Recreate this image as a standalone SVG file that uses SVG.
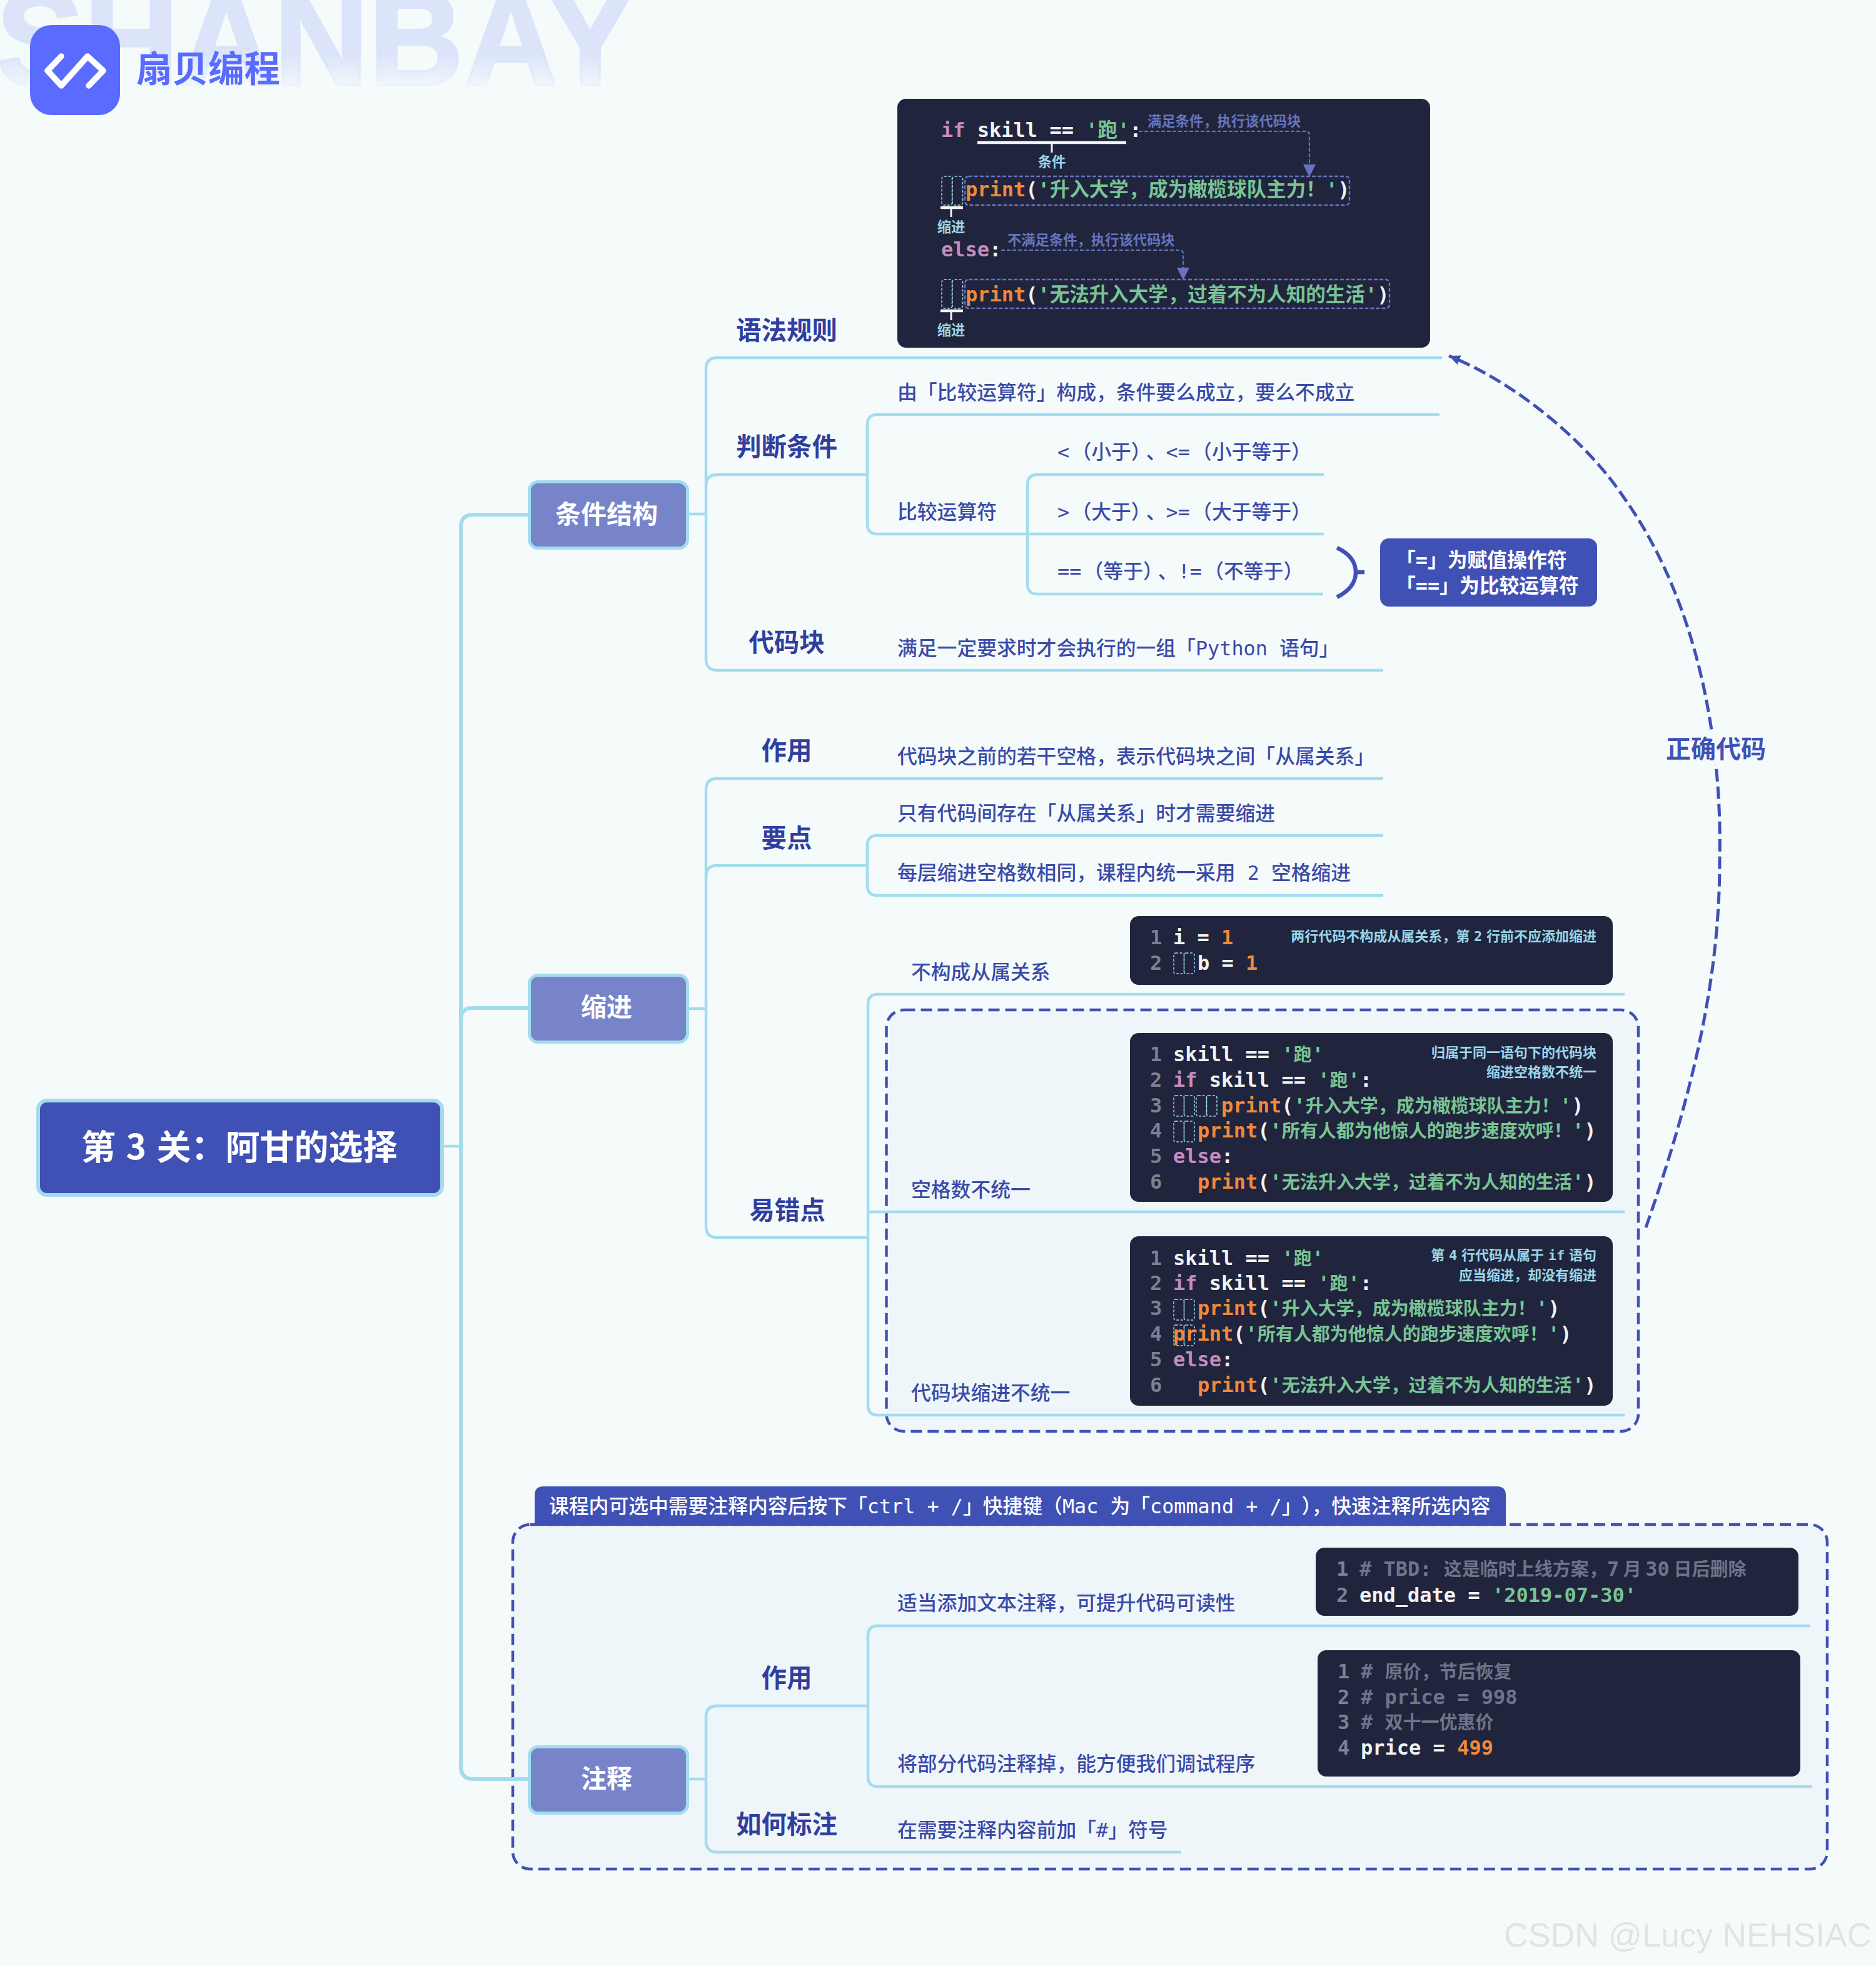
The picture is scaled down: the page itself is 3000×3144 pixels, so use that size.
<svg xmlns="http://www.w3.org/2000/svg" width="3000" height="3144" viewBox="0 0 3000 3144">
<style>
.l{fill:none;stroke:#a2dcef;stroke-linecap:butt}
.l4{stroke-width:4.5}.l6{stroke-width:6}
.b{font:500 31.8px "DejaVu Sans Mono","Noto Sans CJK SC",monospace;fill:#3a4aa8}
.bw{font:700 31.8px "DejaVu Sans Mono","Noto Sans CJK SC",monospace;fill:#fff}
.bn{font:500 31.8px "DejaVu Sans Mono","Noto Sans CJK SC",monospace;fill:#fff}
.t{font:700 40.5px "Noto Sans CJK SC",sans-serif;fill:#303f9f;text-anchor:middle}
.nt{font:700 41px "Noto Sans CJK SC",sans-serif;fill:#fff;text-anchor:middle}
.h{font-feature-settings:"halt"}
.node{fill:#7784ca;stroke:#a2dcef;stroke-width:5}
.code{fill:#20243d}
.dash{fill:#eff6fa;stroke:#4051b5;stroke-width:4.5;stroke-dasharray:18 9}
.c{font:700 32px "DejaVu Sans Mono","Noto Sans CJK SC",monospace;fill:#f2f2f2}
.z{font:700 29px "Noto Sans CJK SC",sans-serif}
.z2{font:700 31.5px "Noto Sans CJK SC",sans-serif}
.w{fill:#f2f2f2}.s{fill:#79c494}.o{fill:#f0893c}.k{fill:#c68cc0}.n{fill:#7c8190}.m{fill:#6f7488}
.a{font:700 22px "DejaVu Sans Mono","Noto Sans CJK SC",monospace;word-spacing:-6.5px;fill:#9ad5e6;text-anchor:end}
.am{font:700 22.3px "Noto Sans CJK SC",sans-serif;fill:#6674bf}
.ac{font:700 22.3px "Noto Sans CJK SC",sans-serif;fill:#9ad5e6;text-anchor:middle}
.cell{fill:none;stroke:#9ad5e6;stroke-width:1.5;stroke-dasharray:4 2.5}
.box{fill:none;stroke:#6674bf;stroke-width:2.5;stroke-dasharray:6 3}
.arrowline{fill:none;stroke:#6674bf;stroke-width:2.2;stroke-dasharray:6 3}
.wl{fill:none;stroke:#f5f5f5}
</style>
<defs>
<linearGradient id="wm" gradientUnits="userSpaceOnUse" x1="0" y1="0" x2="0" y2="140">
<stop offset="0" stop-color="#dce4fa"/><stop offset="0.62" stop-color="#dce4fa"/><stop offset="1" stop-color="#dce4fa" stop-opacity="0.15"/>
</linearGradient>
<marker id="ah" markerUnits="userSpaceOnUse" markerWidth="20" markerHeight="20" viewBox="0 0 20 20" refX="20" refY="10" orient="auto"><path d="M0,0L20,10L0,20Z" fill="#6674bf"/></marker>
<marker id="ab" markerUnits="userSpaceOnUse" markerWidth="18" markerHeight="16" viewBox="0 0 18 16" refX="18" refY="8" orient="auto"><path d="M0,0L18,8L0,16Z" fill="#4051b5"/></marker>
<g id="two"><rect class="cell" x="0" y="0" width="16.5" height="33" rx="3"/><rect class="cell" x="16.5" y="0" width="16.5" height="33" rx="3"/></g>
<g id="bigcell"><rect class="cell" x="0" y="0" width="16.5" height="46" rx="4"/><rect class="cell" x="17" y="0" width="16.5" height="46" rx="4"/></g>
</defs>
<rect width="3000" height="3144" fill="#f5fbfb"/>

<g id="brand">
<text x="-6" y="137" font-family="'Liberation Sans',sans-serif" font-weight="700" font-size="215" fill="url(#wm)" stroke="url(#wm)" stroke-width="4" textLength="1020" lengthAdjust="spacingAndGlyphs">SHANBAY</text>
<rect x="48" y="40" width="144" height="144" rx="34" fill="#5a6bff"/>
<path d="M98,90L76,113L98,137L140,90L165,113L142,137" fill="none" stroke="#fff" stroke-width="9.5" stroke-linejoin="round" stroke-linecap="round"/>
<text x="218" y="131" font-family="'Noto Sans CJK SC',sans-serif" font-weight="700" font-size="57.5" fill="#5a6bff">扇贝编程</text>
</g>

<g id="frames">
<rect class="dash" x="1417.5" y="1615" width="1202.5" height="674" rx="28"/>
<rect class="dash" x="820" y="2438" width="2102" height="551" rx="28"/>
</g>

<g id="connectors">
<path class="l l4" d="M707,1833H737"/>
<path class="l l6" d="M844,823H757Q737,823 737,843V2825Q737,2845 757,2845H844"/>
<path class="l l6" d="M844,1612H755Q737,1612 737,1630"/>
<path class="l l4" d="M1100,822H1129M1100,1613H1129M1100,2845H1129"/>
<path class="l l4" d="M2306,572H1147Q1129,572 1129,590V1054Q1129,1072 1147,1072H2212"/>
<path class="l l4" d="M1387,759H1147Q1129,759 1129,777"/>
<path class="l l4" d="M2302,663H1403Q1387,663 1387,679V838Q1387,854 1403,854H2117"/>
<path class="l l4" d="M2117,759H1659Q1643,759 1643,775V934Q1643,950 1659,950H2116"/>
<path class="l l4" d="M2212,1245H1147Q1129,1245 1129,1263V1961Q1129,1979 1147,1979H1388"/>
<path class="l l4" d="M1387,1384H1147Q1129,1384 1129,1402"/>
<path class="l l4" d="M2212,1336H1403Q1387,1336 1387,1352V1416Q1387,1432 1403,1432H2212"/>
<path class="l l4" d="M2598,1590H1404Q1388,1590 1388,1606V2247Q1388,2263 1404,2263H2598"/>
<path class="l l4" d="M1388,1938H2598"/>
<path class="l l4" d="M1889,2962H1147Q1129,2962 1129,2944V2746Q1129,2728 1147,2728H1388"/>
<path class="l l4" d="M2895,2600H1404Q1388,2600 1388,2616V2841Q1388,2857 1404,2857H2898"/>
<path d="M2138,876Q2168,890 2168,915Q2168,940 2138,955M2168,915H2182" fill="none" stroke="#4051b5" stroke-width="6.5"/>
<path d="M2632,1963C2710,1740 2750,1560 2750,1377C2755,1150 2700,940 2597,796C2540,710 2430,615 2317,569" fill="none" stroke="#4051b5" stroke-width="5" stroke-dasharray="20 8" marker-end="url(#ab)"/>
</g>

<g id="root">
<rect x="61" y="1760" width="646" height="151" rx="14" fill="#4051b5" stroke="#a2dcef" stroke-width="6"/>
<text x="130" y="1854" font-family="'Noto Sans CJK SC',sans-serif" font-weight="700" font-size="55" word-spacing="4" fill="#fff">第 3 关：阿甘的选择</text>
</g>
<g id="n-tiaojian"><rect class="node" x="846.5" y="770.5" width="253" height="106" rx="14"/><text class="nt" x="970" y="837">条件结构</text></g>
<g id="n-suojin"><rect class="node" x="846.5" y="1559.5" width="253" height="107" rx="14"/><text class="nt" x="970" y="1625">缩进</text></g>
<g id="n-zhushi"><rect class="node" x="846.5" y="2793.5" width="253" height="106" rx="14"/><text class="nt" x="970" y="2859">注释</text></g>

<g id="titles">
<text class="t" x="1258" y="543">语法规则</text>
<text class="t" x="1258" y="729">判断条件</text>
<text class="t" x="1258" y="1042">代码块</text>
<text class="t" x="1258" y="1215">作用</text>
<text class="t" x="1258" y="1355">要点</text>
<text class="t" x="1259" y="1950">易错点</text>
<text class="t" x="1258" y="2698">作用</text>
<text class="t" x="1258" y="2932">如何标注</text>
</g>

<g id="leaves">
<text class="b" x="1435" y="639">由「比较运算符」构成，条件要么成立，要么不成立</text>
<text class="b" x="1435" y="830">比较运算符</text>
<text class="b" x="1691" y="734">&lt; <tspan class="h">（</tspan>小于<tspan class="h">）</tspan><tspan dx="8">、</tspan>&lt;= <tspan class="h">（</tspan>小于等于<tspan class="h">）</tspan></text>
<text class="b" x="1691" y="830">&gt; <tspan class="h">（</tspan>大于<tspan class="h">）</tspan><tspan dx="8">、</tspan>&gt;= <tspan class="h">（</tspan>大于等于<tspan class="h">）</tspan></text>
<text class="b" x="1691" y="925">== <tspan class="h">（</tspan>等于<tspan class="h">）</tspan><tspan dx="8">、</tspan>!= <tspan class="h">（</tspan>不等于<tspan class="h">）</tspan></text>
<text class="b" x="1435" y="1048">满足一定要求时才会执行的一组「Python 语句」</text>
<text class="b" x="1435" y="1221">代码块之前的若干空格，表示代码块之间「从属关系」</text>
<text class="b" x="1435" y="1312">只有代码间存在「从属关系」时才需要缩进</text>
<text class="b" x="1435" y="1407">每层缩进空格数相同，课程内统一采用 2 空格缩进</text>
<text class="b" x="1457" y="1566">不构成从属关系</text>
<text class="b" x="1457" y="1914">空格数不统一</text>
<text class="b" x="1457" y="2239">代码块缩进不统一</text>
<text class="b" x="1435" y="2575">适当添加文本注释，可提升代码可读性</text>
<text class="b" x="1435" y="2832">将部分代码注释掉，能方便我们调试程序</text>
<text class="b" x="1435" y="2938">在需要注释内容前加「#」符号</text>
</g>

<g id="callout">
<rect x="2207" y="861" width="347" height="109" rx="14" fill="#4051b5"/>
<text class="bw" x="2232" y="907">「=」为赋值操作符</text>
<text class="bw" x="2232" y="948">「==」为比较运算符</text>
</g>

<g id="banner">
<path d="M855,2440V2391Q855,2377 869,2377H2394Q2408,2377 2408,2391V2440Z" fill="#4051b5"/>
<text class="bn" x="878" y="2420">课程内可选中需要注释内容后按下「ctrl + /」快捷键（Mac 为「command + /」<tspan dx="16">）</tspan>，快速注释所选内容</text>
</g>

<g id="label-correct">
<rect x="2664" y="1170" width="160" height="52" fill="#f5fbfb"/>
<text x="2744" y="1212" font-family="'Noto Sans CJK SC',sans-serif" font-weight="700" font-size="40" fill="#4051b5" text-anchor="middle">正确代码</text>
</g>

<g id="code-syntax">
<rect class="code" x="1435" y="158" width="852" height="398" rx="14"/>
<text class="c" x="1505" y="219"><tspan class="k">if</tspan> skill == <tspan class="s">'<tspan class="z2">跑</tspan>'</tspan>:</text>
<path class="wl" stroke-width="4.5" d="M1563,228H1801"/><path class="wl" stroke-width="3" d="M1682,228V244"/>
<text class="ac" x="1682" y="267">条件</text>
<text class="am" x="1835" y="202">满足条件，执行该代码块</text>
<path class="arrowline" d="M1821,210H2088Q2094,210 2094,216V283" marker-end="url(#ah)"/>
<use href="#bigcell" x="1506" y="282"/>
<rect class="box" x="1543" y="282" width="615" height="46" rx="6"/>
<text class="c" x="1544" y="314"><tspan class="o">print</tspan>(<tspan class="s">'<tspan class="z2">升入大学，成为橄榄球队主力！</tspan>'</tspan>)</text>
<path class="wl" stroke-width="4.5" d="M1504,332H1540"/><path class="wl" stroke-width="3" d="M1521,332V347"/>
<text class="ac" x="1521" y="371">缩进</text>
<text class="c" x="1505" y="410"><tspan class="k">else</tspan>:</text>
<text class="am" x="1611" y="392">不满足条件，执行该代码块</text>
<path class="arrowline" d="M1601,400H1886Q1892,400 1892,406V448" marker-end="url(#ah)"/>
<use href="#bigcell" x="1506" y="447"/>
<rect class="box" x="1543" y="447" width="679" height="46" rx="6"/>
<text class="c" x="1544" y="482"><tspan class="o">print</tspan>(<tspan class="s">'<tspan class="z2">无法升入大学，过着不为人知的生活</tspan>'</tspan>)</text>
<path class="wl" stroke-width="4.5" d="M1504,497H1540"/><path class="wl" stroke-width="3" d="M1521,497V512"/>
<text class="ac" x="1521" y="536">缩进</text>
</g>

<g id="code-c">
<rect class="code" x="1807" y="1465" width="772" height="110" rx="14"/>
<text class="c n" x="1839" y="1510">1</text><text class="c" x="1876" y="1510">i = <tspan class="o">1</tspan></text>
<text class="c n" x="1839" y="1551">2</text><use href="#two" x="1877" y="1524"/><text class="c" x="1915" y="1551">b = <tspan class="o">1</tspan></text>
<text class="a" x="2553" y="1505">两行代码不构成从属关系，第 2 行前不应添加缩进</text>
</g>

<g id="code-d">
<rect class="code" x="1807" y="1652" width="772" height="270" rx="14"/>
<text class="c n" x="1839" y="1697">1</text><text class="c" x="1876" y="1697">skill == <tspan class="s">'<tspan class="z">跑</tspan>'</tspan></text>
<text class="c n" x="1839" y="1738">2</text><text class="c" x="1876" y="1738"><tspan class="k">if</tspan> skill == <tspan class="s">'<tspan class="z">跑</tspan>'</tspan>:</text>
<text class="c n" x="1839" y="1779">3</text><use href="#two" x="1877" y="1752"/><use href="#two" x="1913" y="1752"/><text class="c" x="1953" y="1779"><tspan class="o">print</tspan>(<tspan class="s">'<tspan class="z">升入大学，成为橄榄球队主力！</tspan>'</tspan>)</text>
<text class="c n" x="1839" y="1819">4</text><use href="#two" x="1877" y="1793"/><text class="c" x="1915" y="1819"><tspan class="o">print</tspan>(<tspan class="s">'<tspan class="z">所有人都为他惊人的跑步速度欢呼！</tspan>'</tspan>)</text>
<text class="c n" x="1839" y="1860">5</text><text class="c" x="1876" y="1860"><tspan class="k">else</tspan>:</text>
<text class="c n" x="1839" y="1901">6</text><text class="c" x="1915" y="1901"><tspan class="o">print</tspan>(<tspan class="s">'<tspan class="z">无法升入大学，过着不为人知的生活</tspan>'</tspan>)</text>
<text class="a" x="2553" y="1691">归属于同一语句下的代码块</text>
<text class="a" x="2553" y="1722">缩进空格数不统一</text>
</g>

<g id="code-e">
<rect class="code" x="1807" y="1977" width="772" height="271" rx="14"/>
<text class="c n" x="1839" y="2023">1</text><text class="c" x="1876" y="2023">skill == <tspan class="s">'<tspan class="z">跑</tspan>'</tspan></text>
<text class="c n" x="1839" y="2063">2</text><text class="c" x="1876" y="2063"><tspan class="k">if</tspan> skill == <tspan class="s">'<tspan class="z">跑</tspan>'</tspan>:</text>
<text class="c n" x="1839" y="2103">3</text><use href="#two" x="1877" y="2078"/><text class="c" x="1915" y="2103"><tspan class="o">print</tspan>(<tspan class="s">'<tspan class="z">升入大学，成为橄榄球队主力！</tspan>'</tspan>)</text>
<text class="c n" x="1839" y="2144">4</text><use href="#two" x="1877" y="2119"/><text class="c" x="1876" y="2144"><tspan class="o">print</tspan>(<tspan class="s">'<tspan class="z">所有人都为他惊人的跑步速度欢呼！</tspan>'</tspan>)</text>
<text class="c n" x="1839" y="2185">5</text><text class="c" x="1876" y="2185"><tspan class="k">else</tspan>:</text>
<text class="c n" x="1839" y="2226">6</text><text class="c" x="1915" y="2226"><tspan class="o">print</tspan>(<tspan class="s">'<tspan class="z">无法升入大学，过着不为人知的生活</tspan>'</tspan>)</text>
<text class="a" x="2553" y="2015">第 4 行代码从属于 if 语句</text>
<text class="a" x="2553" y="2047">应当缩进，却没有缩进</text>
</g>

<g id="code-a">
<rect class="code" x="2104" y="2475" width="772" height="109" rx="14"/>
<text class="c n" x="2137" y="2520">1</text><text class="c m" x="2174" y="2520"># TBD: <tspan class="z">这是临时上线方案，</tspan>7<tspan class="z"> 月 </tspan>30<tspan class="z"> 日后删除</tspan></text>
<text class="c n" x="2137" y="2562">2</text><text class="c" x="2174" y="2562">end_date = <tspan class="s">'2019-07-30'</tspan></text>
</g>
<g id="code-b">
<rect class="code" x="2107" y="2639" width="772" height="202" rx="14"/>
<text class="c n" x="2139" y="2684">1</text><text class="c m" x="2176" y="2684"># <tspan class="z">原价，节后恢复</tspan></text>
<text class="c n" x="2139" y="2725">2</text><text class="c m" x="2176" y="2725"># price = 998</text>
<text class="c n" x="2139" y="2765">3</text><text class="c m" x="2176" y="2765"># <tspan class="z">双十一优惠价</tspan></text>
<text class="c n" x="2139" y="2806">4</text><text class="c" x="2176" y="2806">price = <tspan class="o">499</tspan></text>
</g>

<text id="csdn" x="2405" y="3113" font-family="'Liberation Sans',sans-serif" font-size="53.6" fill="#e1e4e5">CSDN @Lucy NEHSIAC</text>
</svg>
